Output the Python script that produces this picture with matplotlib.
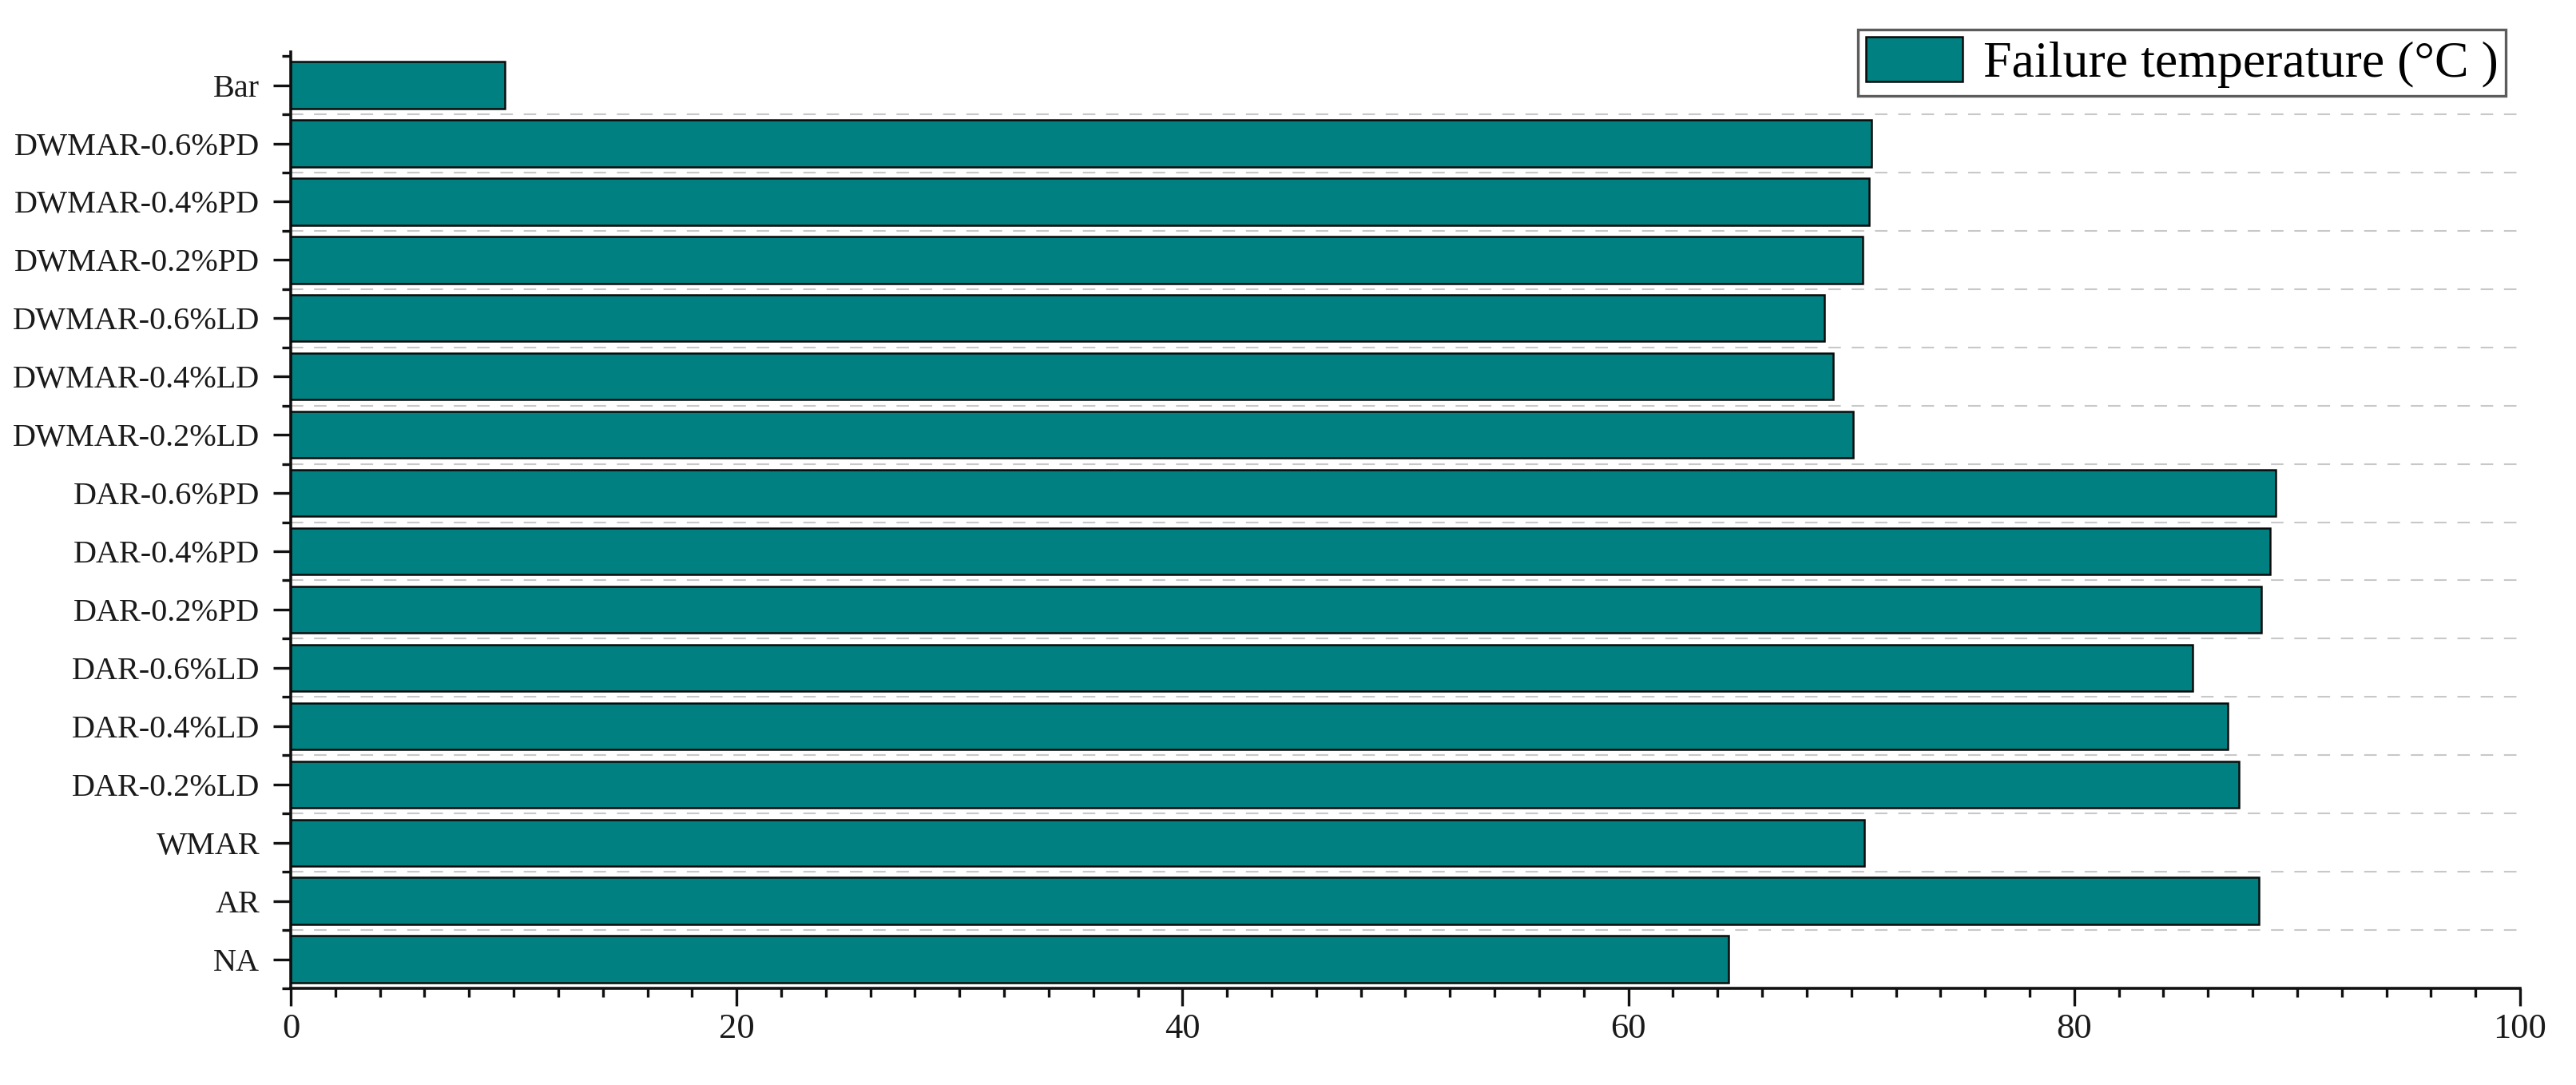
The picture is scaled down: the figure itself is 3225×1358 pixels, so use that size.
import matplotlib
matplotlib.use("Agg")
import matplotlib.pyplot as plt
from matplotlib.ticker import MultipleLocator, FixedLocator

categories = ["NA", "AR", "WMAR",
              "DAR-0.2%LD", "DAR-0.4%LD", "DAR-0.6%LD",
              "DAR-0.2%PD", "DAR-0.4%PD", "DAR-0.6%PD",
              "DWMAR-0.2%LD", "DWMAR-0.4%LD", "DWMAR-0.6%LD",
              "DWMAR-0.2%PD", "DWMAR-0.4%PD", "DWMAR-0.6%PD",
              "Bar"]
failure_temp = [64.5, 88.3, 70.6,
                87.4, 86.9, 85.3,
                88.4, 88.8, 89.05,
                70.1, 69.2, 68.8,
                70.5, 70.8, 70.9,
                9.6]
series_label = "Failure temperature (°C )"
x_ticks = [0, 20, 40, 60, 80, 100]

plt.rcParams['font.family'] = ['Liberation Serif', 'DejaVu Serif']

W, H = 3225, 1358
fig = plt.figure(figsize=(W / 100, H / 100), dpi=100)
ax = fig.add_axes([364 / W, 1 - 1237 / H, (3155 - 364) / W, (1237 - 65) / H])

n = len(categories)
ypos = list(range(n))
ax.barh(ypos, failure_temp, height=0.8, color="#008080", edgecolor="#0a0a0a",
        linewidth=1.8, label=series_label, zorder=3)

ax.set_xlim(0, 100)
ax.set_ylim(-0.5, 15.57)

# dashed separators between categories (not above the top one)
ax.hlines([i + 0.5 for i in range(n - 1)], 0, 100, colors="#c8c8c8",
          linewidth=1.5, linestyles=[(0, (7.5, 6.5))], zorder=0)

ax.set_yticks(ypos)
ax.set_yticklabels(categories)
ax.yaxis.set_minor_locator(FixedLocator([i + 0.5 for i in range(-1, n)]))
ax.set_xticks(x_ticks)
ax.xaxis.set_minor_locator(MultipleLocator(2))

for s in ["top", "right"]:
    ax.spines[s].set_visible(False)
for s in ["left", "bottom"]:
    ax.spines[s].set_linewidth(2.6)
    ax.spines[s].set_color("#111111")

ax.tick_params(axis="y", which="major", direction="out", length=16, width=2.4,
               labelsize=29, pad=12, colors="#111111")
ax.tick_params(axis="y", which="minor", direction="out", length=8, width=2.4,
               colors="#111111")
ax.tick_params(axis="x", which="major", direction="out", length=16, width=2.4,
               labelsize=32, pad=6, colors="#111111")
ax.tick_params(axis="x", which="minor", direction="out", length=8, width=2.4,
               colors="#111111")
for lab in ax.get_yticklabels() + ax.get_xticklabels():
    lab.set_color("#1a1a1a")

leg = ax.legend(loc="upper right", bbox_to_anchor=(0.9935, 1.024),
                borderaxespad=0, fontsize=46, frameon=True, fancybox=False,
                edgecolor="#333333", handlelength=1.9, handleheight=0.95,
                handletextpad=0.4, borderpad=0.15)
leg.get_frame().set_linewidth(2.4)

fig.savefig("out.png", dpi=100, facecolor="white")
